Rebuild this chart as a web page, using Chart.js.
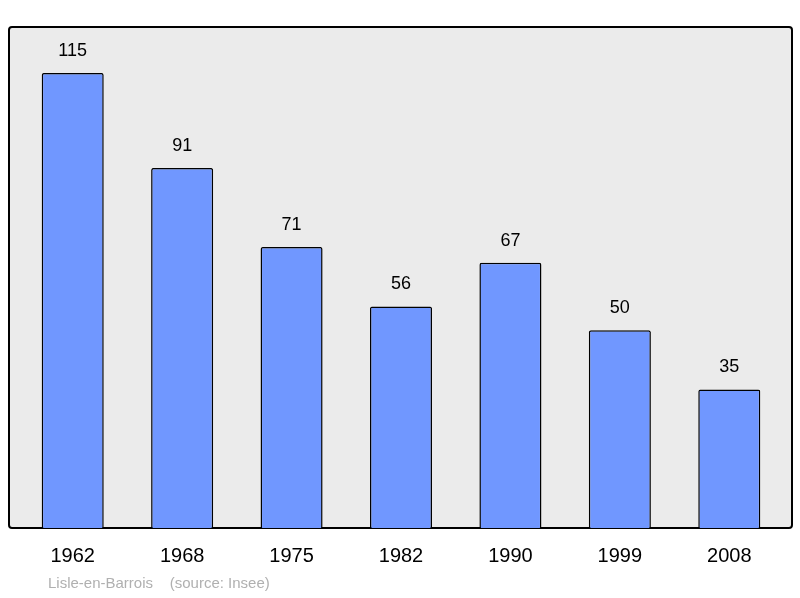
<!DOCTYPE html>
<html><head><meta charset="utf-8">
<script src="https://cdn.jsdelivr.net/npm/chart.js@4"></script>
<style>html,body{margin:0;padding:0;background:#fff}#w{width:800px;height:598px}</style>
</head><body><div id="w"><canvas id="c"></canvas></div>
<script>
const years = ["1962","1968","1975","1982","1990","1999","2008"];
const population = [115,91,71,56,67,50,35];
const footer = "Lisle-en-Barrois    (source: Insee)";

const deco = {
  id:'deco',
  beforeDraw(ch){
    const c=ch.ctx; c.save();
    c.fillStyle='#ebebeb'; c.strokeStyle='#000'; c.lineWidth=2;
    c.beginPath(); c.roundRect(9,27,783,501,3); c.fill(); c.stroke();
    c.restore();
  },
  afterDatasetsDraw(ch){
    const c=ch.ctx, meta=ch.getDatasetMeta(0), x=ch.scales.x, y=ch.scales.y;
    c.save(); c.fillStyle='#000'; c.textAlign='center'; c.textBaseline='middle';
    c.font='18px "Liberation Sans", Arial, sans-serif';
    meta.data.forEach((b,i)=>{ c.fillText(String(population[i]), b.x, y.getPixelForValue(population[i])-22); });
    c.font='20px "Liberation Sans", Arial, sans-serif';
    years.forEach((t,i)=>{ c.fillText(t, x.getPixelForValue(i), 556); });
    c.textAlign='left'; c.fillStyle='#b0b0b0'; c.font='15px "Liberation Sans", Arial, sans-serif';
    c.fillText(footer, 48, 584);
    c.restore();
  }
};

new Chart(document.getElementById('c'),{
  type:'bar',
  data:{labels:years,datasets:[{data:population,backgroundColor:'#7097ff',borderColor:'#000',borderWidth:1.5,borderRadius:2,borderSkipped:'bottom',barPercentage:0.567,categoryPercentage:1}]},
  options:{responsive:true,maintainAspectRatio:false,animation:false,devicePixelRatio:1,
    layout:{padding:{left:18,right:16,top:27,bottom:70}},
    plugins:{legend:{display:false},tooltip:{enabled:false}},
    scales:{x:{display:false},y:{display:false,min:0,max:126.6}}},
  plugins:[deco]
});
</script></body></html>
